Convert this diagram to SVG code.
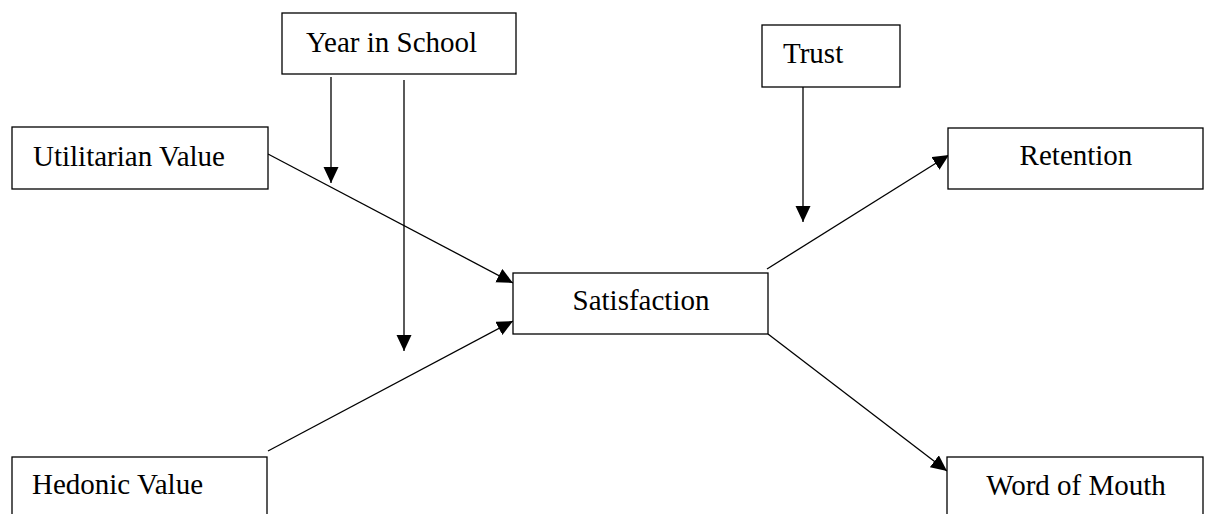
<svg xmlns="http://www.w3.org/2000/svg" width="1205" height="514" viewBox="0 0 1205 514">
<style>
.box{fill:#fff;stroke:#000;stroke-width:1.3}
.lbl{font-family:"Liberation Serif","Times New Roman",serif;font-size:29px;fill:#000}
.mid{text-anchor:middle}
.edge{stroke:#000;stroke-width:1.3;fill:none;marker-end:url(#ah)}
</style>
<defs>
<marker id="ah" markerUnits="userSpaceOnUse" markerWidth="17" markerHeight="16" refX="16" refY="7.5" orient="auto" viewBox="0 0 17 16">
<path d="M0,0 L16,7.5 L0,15 z" fill="#000"/>
</marker>
</defs>
<rect width="1205" height="514" fill="#fff"/>
<g id="connectors">
<line class="edge" x1="331" y1="77" x2="331" y2="183"/>
<line class="edge" x1="404" y1="80" x2="404" y2="351"/>
<line class="edge" x1="268" y1="154" x2="513" y2="283"/>
<line class="edge" x1="268" y1="451" x2="513" y2="321"/>
<line class="edge" x1="803" y1="87" x2="803" y2="222"/>
<line class="edge" x1="767" y1="269" x2="949" y2="155"/>
<line class="edge" x1="768" y1="334" x2="947" y2="471"/>
</g>
<g id="year">
<rect class="box" x="282" y="13" width="234" height="61"/>
<text class="lbl" x="306" y="52">Year in School</text>
</g>
<g id="utilitarian">
<rect class="box" x="12" y="127" width="256" height="62"/>
<text class="lbl" x="33" y="166">Utilitarian Value</text>
</g>
<g id="trust">
<rect class="box" x="762" y="25" width="138" height="62"/>
<text class="lbl" x="783" y="63">Trust</text>
</g>
<g id="retention">
<rect class="box" x="948" y="128" width="255" height="61"/>
<text class="lbl mid" x="1076" y="165">Retention</text>
</g>
<g id="satisfaction">
<rect class="box" x="513" y="273" width="255" height="61"/>
<text class="lbl mid" x="641" y="310">Satisfaction</text>
</g>
<g id="hedonic">
<rect class="box" x="12" y="457" width="255" height="80"/>
<text class="lbl" x="32" y="494">Hedonic Value</text>
</g>
<g id="wom">
<rect class="box" x="947" y="457" width="256" height="80"/>
<text class="lbl mid" x="1076" y="495">Word of Mouth</text>
</g>
</svg>
